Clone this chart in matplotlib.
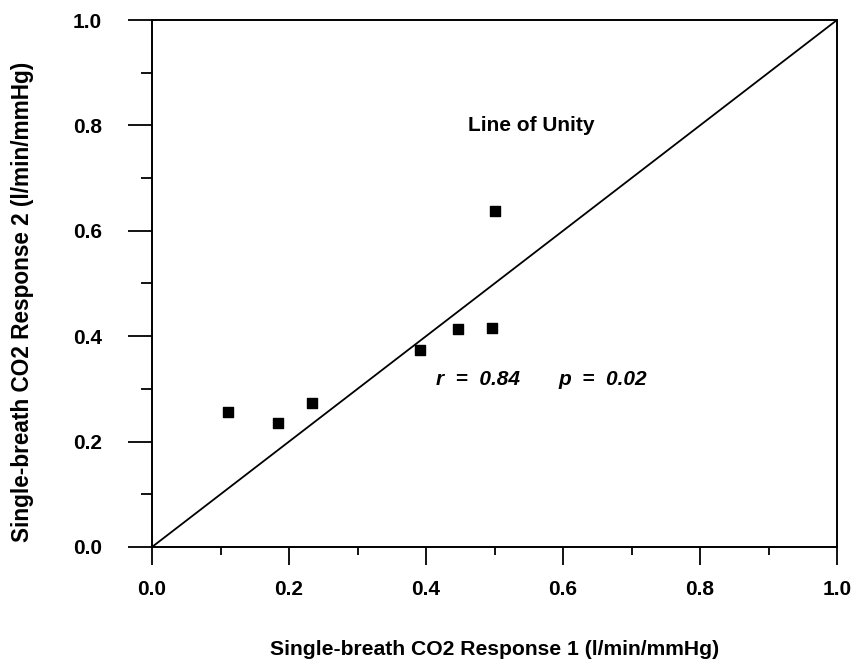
import matplotlib
matplotlib.use("Agg")
import matplotlib.pyplot as plt
from matplotlib.ticker import MultipleLocator

response1 = [0.111, 0.184, 0.234, 0.391, 0.446, 0.496, 0.501]
response2 = [0.257, 0.236, 0.274, 0.373, 0.414, 0.416, 0.638]
unity_x = [0.0, 1.0]
unity_y = [0.0, 1.0]
tick_values = [0.0, 0.2, 0.4, 0.6, 0.8, 1.0]
tick_labels = ["0.0", "0.2", "0.4", "0.6", "0.8", "1.0"]

plt.rcParams['font.family'] = ['Liberation Sans', 'DejaVu Sans']
plt.rcParams['font.weight'] = 'bold'

fig = plt.figure(figsize=(8.56, 6.68), dpi=100)
ax = fig.add_axes([152/856, 1-547/668, (837-152)/856, (547-20)/668])

ax.plot(unity_x, unity_y, color='black', lw=1.3)
ax.scatter(response1, response2, marker='s', s=45, color='black', zorder=3)

ax.set_xlim(0, 1)
ax.set_ylim(0, 1)
ax.set_xticks(tick_values)
ax.set_xticklabels(tick_labels)
ax.set_yticks(tick_values)
ax.set_yticklabels(tick_labels)
ax.xaxis.set_minor_locator(MultipleLocator(0.1))
ax.yaxis.set_minor_locator(MultipleLocator(0.1))

for s in ax.spines.values():
    s.set_linewidth(1.4)

ax.tick_params(axis='x', which='major', direction='out', length=13, width=1.3, pad=11, labelsize=15)
ax.tick_params(axis='x', which='minor', direction='out', length=6, width=1.3)
ax.tick_params(axis='y', which='major', direction='out', length=17, width=1.3, pad=19, labelsize=15)
ax.tick_params(axis='y', which='minor', direction='out', length=8, width=1.3)
for lbl in ax.get_xticklabels() + ax.get_yticklabels():
    lbl.set_fontweight('bold')

ax.set_xlabel("Single-breath CO2 Response 1 (l/min/mmHg)", fontsize=15.2, fontweight='bold')
ax.set_ylabel("Single-breath CO2 Response 2 (l/min/mmHg)", fontsize=16.3, fontweight='bold')
ax.xaxis.set_label_coords(0.5, -0.176)
ax.yaxis.set_label_coords(-0.172, 0.465)

ax.text(0.461, 0.80, "Line of Unity", fontsize=15, fontweight='bold', ha='left', va='center')
ax.text(0.415, 0.317, "r  =  0.84", fontsize=15, fontweight='bold', style='italic', ha='left', va='center')
ax.text(0.593, 0.317, "p  =  0.02", fontsize=15, fontweight='bold', style='italic', ha='left', va='center')

fig.savefig("out.png", dpi=100)
